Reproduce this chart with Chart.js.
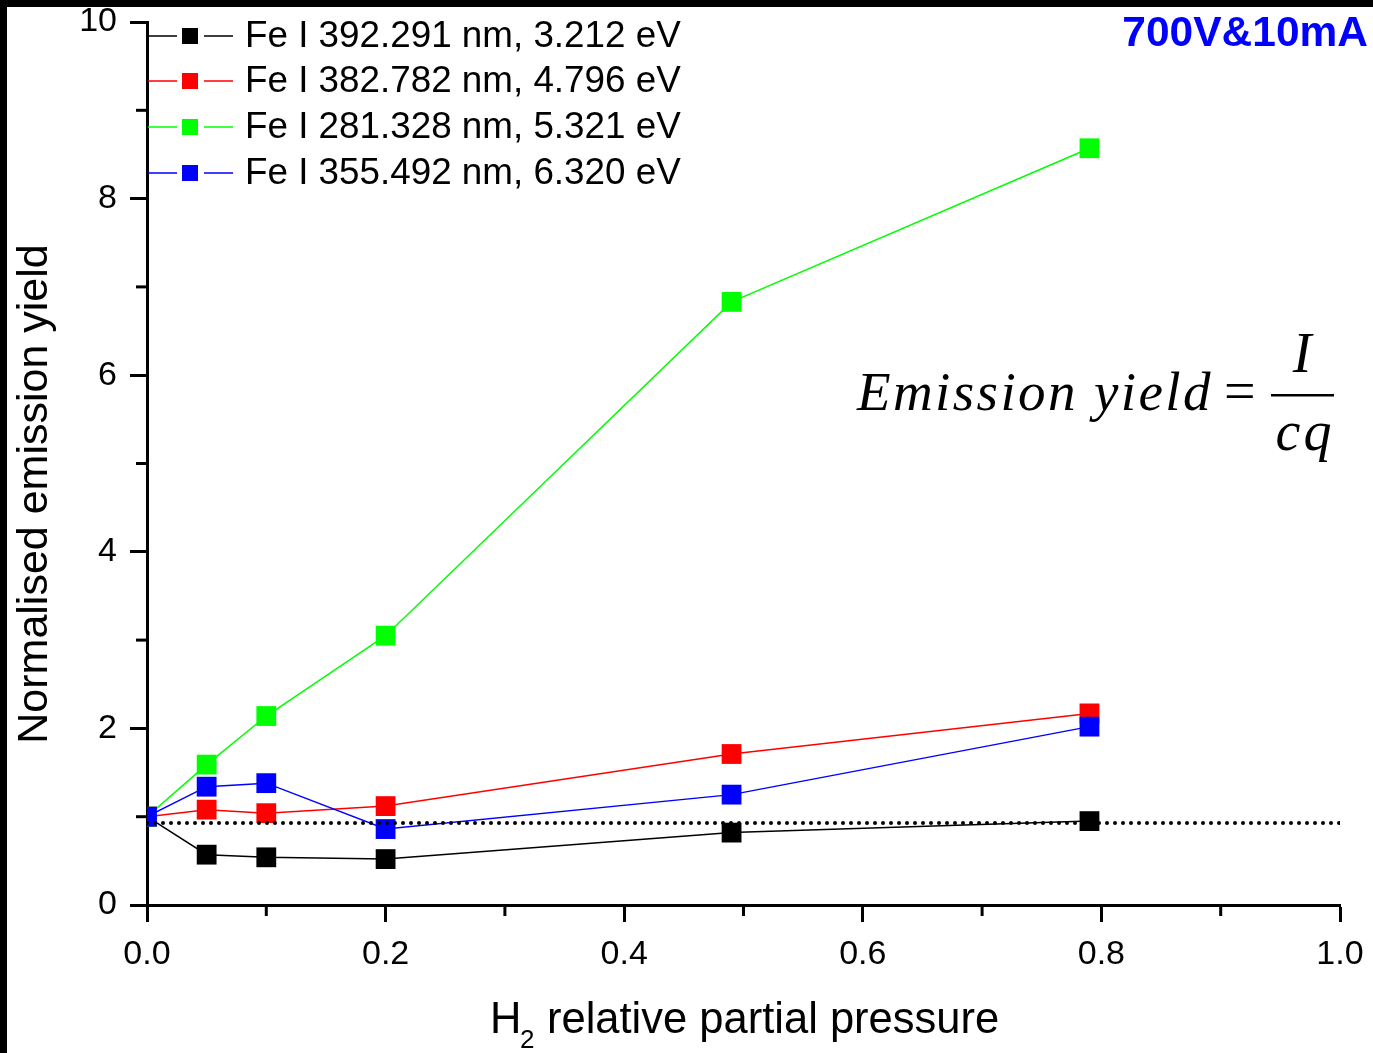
<!DOCTYPE html>
<html>
<head>
<meta charset="utf-8">
<title>Normalised emission yield vs H2 partial pressure</title>
<script src="https://cdn.jsdelivr.net/npm/chart.js@4.4.1/dist/chart.umd.min.js"></script>
<style>
  html, body { margin: 0; padding: 0; background: #fff; }
  #wrap { width: 1373px; height: 1053px; position: relative; }
</style>
</head>
<body>
<div id="wrap"><canvas id="yieldChart" width="1373" height="1053"></canvas></div>
<script>
// H2 relative partial pressure (x) and normalised yield of each Fe I line
const pressure = [0, 0.05, 0.1, 0.2, 0.49, 0.79];
const fe392 = [1.0, 0.57, 0.54, 0.52, 0.82, 0.95];
const fe382 = [1.0, 1.08, 1.04, 1.12, 1.71, 2.17];
const fe281 = [1.0, 1.59, 2.14, 3.05, 6.83, 8.57];
const fe355 = [1.0, 1.34, 1.38, 0.86, 1.25, 2.02];
const referenceLevel = 0.93;

const lineNames = [
    'Fe I 392.291 nm, 3.212 eV',
    'Fe I 382.782 nm, 4.796 eV',
    'Fe I 281.328 nm, 5.321 eV',
    'Fe I 355.492 nm, 6.320 eV'
];
const lineColors = ['#000000', '#ff0000', '#00ff00', '#0000ff'];
const seriesValues = [fe392, fe382, fe281, fe355];

const xTickValues = [0, 0.2, 0.4, 0.6, 0.8, 1.0];
const xTickLabels = ['0.0', '0.2', '0.4', '0.6', '0.8', '1.0'];
const xMinorTicks = [0.1, 0.3, 0.5, 0.7, 0.9];
const yTickValues = [0, 2, 4, 6, 8, 10];
const yTickLabels = ['0', '2', '4', '6', '8', '10'];
const yMinorTicks = [1, 3, 5, 7, 9];

const SANS = '"Liberation Sans", Arial, Helvetica, sans-serif';
const SERIF = '"Liberation Serif", "Times New Roman", serif';

const datasets = seriesValues.map((vals, i) => ({
    label: lineNames[i],
    data: pressure.map((p, j) => ({ x: p, y: vals[j] })),
    borderColor: lineColors[i],
    backgroundColor: lineColors[i],
    borderWidth: 1.5,
    pointStyle: 'rect',
    pointRadius: 14,
    pointBorderWidth: 0,
    pointBackgroundColor: lineColors[i],
    clip: 0,
    order: 4 - i
}));

// dotted reference line across the whole axis
datasets.push({
    label: 'reference',
    data: [{ x: 0, y: referenceLevel }, { x: 1, y: referenceLevel }],
    borderColor: '#000',
    borderWidth: 4,
    borderDash: [0, 8],
    borderCapStyle: 'round',
    pointRadius: 0,
    clip: 0,
    order: 0
});

const minorTicks = {
    id: 'minorTicks',
    afterDraw(chart) {
        const { ctx, chartArea, scales } = chart;
        ctx.save();
        ctx.strokeStyle = '#000';
        ctx.lineWidth = 3;
        xMinorTicks.forEach(v => {
            const px = scales.x.getPixelForValue(v);
            ctx.beginPath();
            ctx.moveTo(px, chartArea.bottom);
            ctx.lineTo(px, chartArea.bottom + 11);
            ctx.stroke();
        });
        yMinorTicks.forEach(v => {
            const py = scales.y.getPixelForValue(v);
            ctx.beginPath();
            ctx.moveTo(chartArea.left, py);
            ctx.lineTo(chartArea.left - 11, py);
            ctx.stroke();
        });
        ctx.restore();
    }
};

const annotations = {
    id: 'annotations',
    afterDraw(chart) {
        const ctx = chart.ctx;
        ctx.save();

        // legend: line - marker - line, then the label
        const rows = [36, 81, 127, 173];
        lineNames.forEach((name, i) => {
            const y = rows[i];
            ctx.strokeStyle = lineColors[i];
            ctx.lineWidth = 1.5;
            ctx.beginPath();
            ctx.moveTo(148, y); ctx.lineTo(177, y);
            ctx.moveTo(204, y); ctx.lineTo(233, y);
            ctx.stroke();
            ctx.fillStyle = lineColors[i];
            ctx.fillRect(182, y - 8, 16, 16);
            ctx.fillStyle = '#000';
            ctx.font = '36.8px ' + SANS;
            ctx.textAlign = 'left';
            ctx.textBaseline = 'middle';
            ctx.fillText(name, 245, y + 1);
        });

        // condition label
        ctx.fillStyle = '#0000ff';
        ctx.font = 'bold 42.5px ' + SANS;
        ctx.textAlign = 'right';
        ctx.textBaseline = 'alphabetic';
        ctx.fillText('700V&10mA', 1368, 46);

        // emission yield formula
        ctx.fillStyle = '#000';
        ctx.textAlign = 'left';
        ctx.font = 'italic 55px ' + SERIF;
        ctx.letterSpacing = '2.4px';
        ctx.fillText('Emission yield', 857, 410);
        ctx.letterSpacing = '0px';
        ctx.font = '56px ' + SERIF;
        ctx.fillText('=', 1224, 410);
        ctx.fillRect(1271, 394, 63, 2.5);
        ctx.font = 'italic 56px ' + SERIF;
        ctx.textAlign = 'center';
        ctx.fillText('I', 1302, 372);
        ctx.letterSpacing = '3px';
        ctx.fillText('cq', 1305, 450);
        ctx.letterSpacing = '0px';

        // axis titles
        ctx.font = '43.5px ' + SANS;
        ctx.textAlign = 'left';
        ctx.fillText('H', 490, 1033);
        ctx.font = '26px ' + SANS;
        ctx.fillText('2', 520, 1048);
        ctx.font = '43.5px ' + SANS;
        ctx.fillText('relative partial pressure', 547, 1033);

        ctx.font = '43px ' + SANS;
        ctx.translate(47, 494);
        ctx.rotate(-Math.PI / 2);
        ctx.textAlign = 'center';
        ctx.fillText('Normalised emission yield', 0, 0);
        ctx.setTransform(1, 0, 0, 1, 0, 0);

        // frame strips on the left and top edges
        ctx.fillStyle = '#000';
        ctx.fillRect(0, 0, 7, 1053);
        ctx.fillRect(0, 0, 1373, 7);
        ctx.restore();
    }
};

const axisStyle = {
    border: { display: true, color: '#000', width: 3 },
    grid: { display: true, drawOnChartArea: false, drawTicks: true, tickLength: 17, tickWidth: 3, tickColor: '#000' }
};

new Chart(document.getElementById('yieldChart'), {
    type: 'line',
    data: { datasets: datasets },
    options: {
        responsive: false,
        devicePixelRatio: 1,
        animation: false,
        layout: { padding: { left: 0, top: 22, right: 33, bottom: 0 } },
        plugins: { legend: { display: false }, tooltip: { enabled: false } },
        scales: {
            x: {
                type: 'linear',
                min: 0,
                max: 1,
                ...axisStyle,
                afterBuildTicks: s => { s.ticks = xTickValues.map(v => ({ value: v })); },
                ticks: {
                    color: '#000',
                    font: { family: SANS, size: 34 },
                    padding: 12,
                    maxRotation: 0,
                    callback: (v, i) => xTickLabels[i]
                },
                afterFit: s => { s.height = 148; s.paddingLeft = 0; s.paddingRight = 0; }
            },
            y: {
                type: 'linear',
                min: 0,
                max: 10,
                ...axisStyle,
                afterBuildTicks: s => { s.ticks = yTickValues.map(v => ({ value: v })); },
                ticks: {
                    color: '#000',
                    font: { family: SANS, size: 34 },
                    padding: 13,
                    callback: (v, i) => yTickLabels[i]
                },
                afterFit: s => { s.width = 147; s.paddingTop = 0; s.paddingBottom = 0; }
            }
        }
    },
    plugins: [minorTicks, annotations]
});
</script>
</body>
</html>
